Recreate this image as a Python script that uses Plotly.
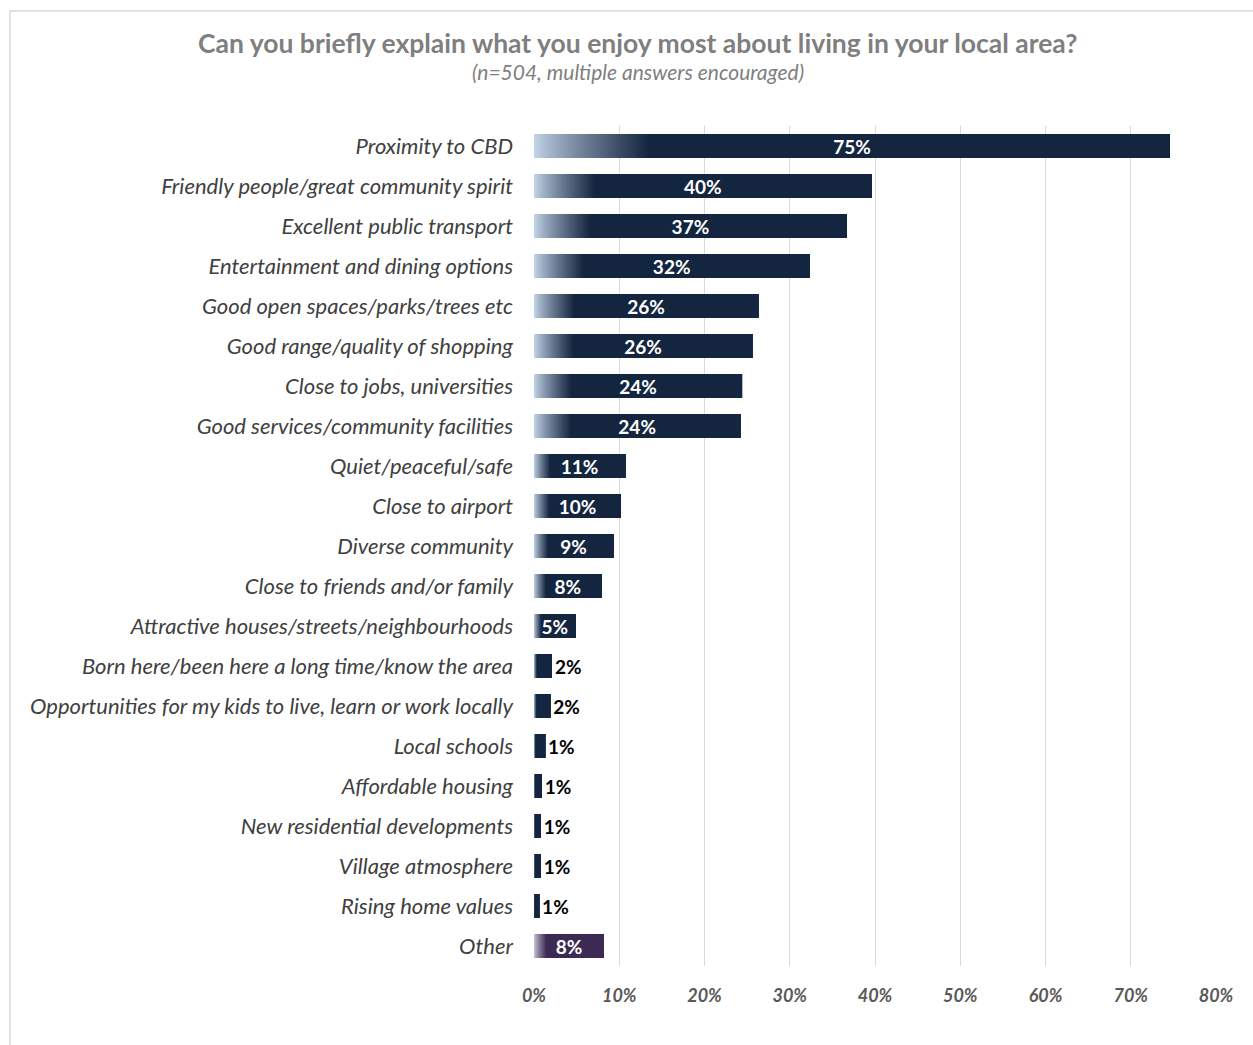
import plotly.graph_objects as go

categories = [
    "Proximity to CBD",
    "Friendly people/great community spirit",
    "Excellent public transport",
    "Entertainment and dining options",
    "Good open spaces/parks/trees etc",
    "Good range/quality of shopping",
    "Close to jobs, universities",
    "Good services/community facilities",
    "Quiet/peaceful/safe",
    "Close to airport",
    "Diverse community",
    "Close to friends and/or family",
    "Attractive houses/streets/neighbourhoods",
    "Born here/been here a long time/know the area",
    "Opportunities for my kids to live, learn or work locally",
    "Local schools",
    "Affordable housing",
    "New residential developments",
    "Village atmosphere",
    "Rising home values",
    "Other",
]
values = [74.6, 39.6, 36.7, 32.3, 26.3, 25.6, 24.4, 24.2, 10.7, 10.2, 9.3, 7.9,
          4.9, 2.1, 1.9, 1.3, 0.9, 0.8, 0.8, 0.6, 8.2]
labels = ["75%", "40%", "37%", "32%", "26%", "26%", "24%", "24%", "11%", "10%", "9%", "8%",
          "5%", "2%", "2%", "1%", "1%", "1%", "1%", "1%", "8%"]
x_ticks = [0, 10, 20, 30, 40, 50, 60, 70, 80]

FONT = "Lato"
light = (196, 212, 232)
dark = (20, 37, 63)
purple = (60, 42, 84)
light_p = (205, 200, 218)


def mix(a, b, t):
    return "rgb(%d,%d,%d)" % tuple(round(a[i] + (b[i] - a[i]) * t) for i in range(3))


fig = go.Figure()
n_seg = 60
grad_frac = 0.18
# overlapping layers: each layer starts a little further right and runs to the bar end
for k in range(n_seg + 1):
    f0 = grad_frac * k / n_seg
    t = (k / n_seg) ** 0.85
    cols = [mix(light_p, purple, t) if c == "Other" else mix(light, dark, t) for c in categories]
    fig.add_trace(go.Bar(
        y=categories, x=[v * (1 - f0) for v in values], base=[v * f0 for v in values],
        orientation="h", marker=dict(color=cols, line=dict(width=0)), width=0.6,
        hoverinfo="skip", showlegend=False,
    ))
# label layer
positions = ["inside" if v >= 4 else "outside" for v in values]
fig.add_trace(go.Bar(
    y=categories, x=values, orientation="h", width=0.6,
    marker=dict(color="rgba(0,0,0,0)", line=dict(width=0)),
    text=labels, textposition=positions, textangle=0, constraintext="none",
    insidetextanchor="middle",
    insidetextfont=dict(family=FONT, size=19, color="white", weight="bold"),
    outsidetextfont=dict(family=FONT, size=19, color="black", weight="bold"),
    cliponaxis=False, showlegend=False,
))

fig.update_layout(
    width=1253, height=1045,
    barmode="overlay",
    plot_bgcolor="white", paper_bgcolor="white",
    margin=dict(l=534, r=37, t=126, b=79),
    font=dict(family=FONT),
    annotations=[
        dict(text="<b>Can you briefly explain what you enjoy most about living in your local area?</b>",
             xref="paper", yref="paper", x=(637.5 - 534) / 682, y=(966 - 43) / 840,
             xanchor="center", yanchor="middle", showarrow=False,
             font=dict(family=FONT, size=26.5, color="#7f7f7f")),
        dict(text="<i>(n=504, multiple answers encouraged)</i>",
             xref="paper", yref="paper", x=(637.5 - 534) / 682, y=(966 - 71) / 840,
             xanchor="center", yanchor="middle", showarrow=False,
             font=dict(family=FONT, size=21, color="#7f7f7f")),
    ],
    shapes=[dict(type="rect", xref="paper", yref="paper",
                 x0=(10 - 534) / 682, x1=1.2, y0=-0.2, y1=1 + (126 - 11) / 840,
                 line=dict(color="#d9d9d9", width=1.5), fillcolor="rgba(0,0,0,0)", layer="below")],
)
fig.update_xaxes(
    range=[0, 80], tickvals=x_ticks, ticktext=[f"<i><b>{t}%</b></i>" for t in x_ticks],
    showgrid=True, gridcolor="#d9d9d9", gridwidth=1, zeroline=False,
    tickfont=dict(family=FONT, size=18, color="#595959"), ticklabelstandoff=17,
    fixedrange=True,
)
fig.update_yaxes(
    autorange="reversed", tickmode="array", tickvals=categories,
    ticktext=[f"<i>{c}</i>" for c in categories],
    tickfont=dict(family=FONT, size=22, color="#404040"), ticklabelstandoff=20,
    showgrid=False, showline=False,
)
fig.write_html("out.html")
